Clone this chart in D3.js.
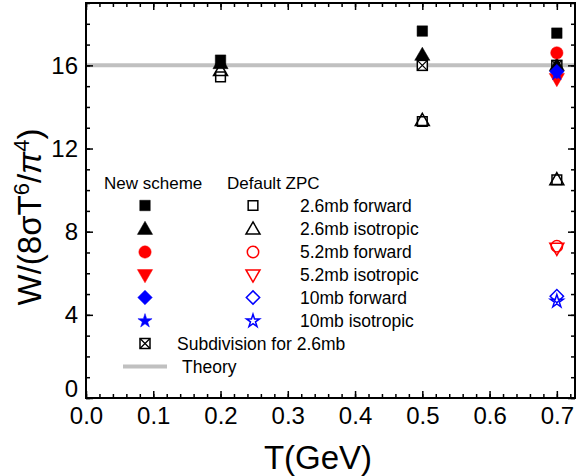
<!DOCTYPE html>
<html>
<head>
<meta charset="utf-8">
<script src="https://cdn.jsdelivr.net/npm/d3@7"></script>
<style>
  body { margin: 0; background: #fff; }
  text { font-family: "Liberation Sans", Arial, sans-serif; fill: #000; }
</style>
</head>
<body>
<div id="chart"></div>
<script>
// chart values
var temps = [0.2, 0.5, 0.7];
var xTicks = [0, 0.1, 0.2, 0.3, 0.4, 0.5, 0.6, 0.7];
var yTicks = [0, 4, 8, 12, 16];
var theory = 16;

// new scheme
var new26Fwd = [16.25, 17.65, 17.55];
var new26Iso = [16.1, 16.5, 16.0];
var new52Fwd = [null, null, 16.6];
var new52Iso = [null, null, 15.35];
var new10Fwd = [null, null, 15.7];
var new10Iso = [null, null, 15.6];
// default ZPC
var def26Fwd = [15.45, 13.3, 10.5];
var def26Iso = [15.75, 13.35, 10.5];
var def52Fwd = [null, null, 7.3];
var def52Iso = [null, null, 7.2];
var def10Fwd = [null, null, 4.9];
var def10Iso = [null, null, 4.65];
// subdivision
var sub26 = [null, 16.0, 16.0];

var labels = ["2.6mb forward", "2.6mb isotropic", "5.2mb forward",
  "5.2mb isotropic", "10mb forward", "10mb isotropic"];

var svgWidth = 578, svgHeight = 476;
var svg = d3.select("#chart").append("svg")
  .attr("width", svgWidth)
  .attr("height", svgHeight);

var x = d3.scaleLinear().domain([0, 0.727]).range([86, 575]);
var y = d3.scaleLinear().domain([0, 19]).range([398, 3]);

// theory line
svg.append("line")
  .attr("x1", x(0)).attr("x2", x(0.727))
  .attr("y1", y(theory)).attr("y2", y(theory))
  .attr("stroke", "#c0c0c0").attr("stroke-width", 4);

// axes: inward ticks on all four sides
function clean(g) { g.select(".domain").remove(); g.selectAll("line").attr("stroke-width", 1.5); }
var minorX = d3.range(0, 0.7201, 0.02);
var minorY = d3.range(0, 19.01, 1);

svg.append("g").attr("transform", `translate(0,${y(0)})`)
  .call(d3.axisBottom(x).tickValues(xTicks).tickSize(-7).tickPadding(8.5).tickFormat(d3.format(".1f")))
  .call(clean)
  .selectAll("text").attr("font-size", 24).attr("font-family", "Liberation Sans, Arial");
svg.append("g").attr("transform", `translate(0,${y(0)})`)
  .call(d3.axisBottom(x).tickValues(minorX).tickSize(-4).tickFormat(""))
  .call(clean);
svg.append("g").attr("transform", `translate(0,${y(19)})`)
  .call(d3.axisTop(x).tickValues(xTicks).tickSize(-7).tickFormat(""))
  .call(clean);
svg.append("g").attr("transform", `translate(0,${y(19)})`)
  .call(d3.axisTop(x).tickValues(minorX).tickSize(-4).tickFormat(""))
  .call(clean);

svg.append("g").attr("transform", `translate(${x(0)},0)`)
  .call(d3.axisLeft(y).tickValues(yTicks).tickSize(-7).tickPadding(8).tickFormat(d3.format("d")))
  .call(clean)
  .selectAll("text").attr("font-size", 24).attr("font-family", "Liberation Sans, Arial")
  .attr("dy", d => d === 0 ? "-0.05em" : "0.32em");
svg.append("g").attr("transform", `translate(${x(0)},0)`)
  .call(d3.axisLeft(y).tickValues(minorY).tickSize(-4).tickFormat(""))
  .call(clean);
svg.append("g").attr("transform", `translate(${x(0.727)},0)`)
  .call(d3.axisRight(y).tickValues(yTicks).tickSize(-7).tickFormat(""))
  .call(clean);
svg.append("g").attr("transform", `translate(${x(0.727)},0)`)
  .call(d3.axisRight(y).tickValues(minorY).tickSize(-4).tickFormat(""))
  .call(clean);

// frame
svg.append("rect")
  .attr("x", x(0)).attr("y", y(19))
  .attr("width", x(0.727) - x(0)).attr("height", y(0) - y(19))
  .attr("fill", "none").attr("stroke", "#000").attr("stroke-width", 2);

// marker drawing
var shapes = {
  square: { type: d3.symbolSquare, size: 110, rot: 0 },
  triUp: { type: d3.symbolTriangle, size: 100, rot: 0, dy: 1 },
  circle: { type: d3.symbolCircle, size: 120, rot: 0 },
  triDown: { type: d3.symbolTriangle, size: 100, rot: 180, dy: -1 },
  diamond: { type: d3.symbolSquare, size: 105, rot: 45 },
  star: { type: d3.symbolStar, size: 62, rot: 0 }
};

function marker(g, shape, color, filled, cx, cy) {
  var s = shapes[shape];
  var osz = filled ? s.size : s.size * 0.85;
  g.append("path")
    .attr("d", d3.symbol().type(s.type).size(osz)())
    .attr("transform", `translate(${cx},${cy + (s.dy || 0)}) rotate(${s.rot})`)
    .attr("fill", filled ? color : "none")
    .attr("stroke", color)
    .attr("stroke-width", filled ? 0.5 : 1.5);
}

function crossSquare(g, cx, cy) {
  var h = 5;
  g.append("rect").attr("x", cx - h).attr("y", cy - h).attr("width", 2 * h).attr("height", 2 * h)
    .attr("fill", "#fff").attr("stroke", "#000").attr("stroke-width", 1.5);
  g.append("path").attr("d", `M${cx - h},${cy - h}L${cx + h},${cy + h}M${cx + h},${cy - h}L${cx - h},${cy + h}`)
    .attr("stroke", "#000").attr("stroke-width", 1.3);
}

var series = [
  { vals: sub26, sub: true },
  { vals: new26Fwd, shape: "square", color: "#000", filled: true },
  { vals: new26Iso, shape: "triUp", color: "#000", filled: true },
  { vals: new52Fwd, shape: "circle", color: "#ff0000", filled: true },
  { vals: new52Iso, shape: "triDown", color: "#ff0000", filled: true },
  { vals: new10Fwd, shape: "diamond", color: "#0000ff", filled: true },
  { vals: new10Iso, shape: "star", color: "#0000ff", filled: true },
  { vals: def26Fwd, shape: "square", color: "#000", filled: false },
  { vals: def26Iso, shape: "triUp", color: "#000", filled: false },
  { vals: def52Fwd, shape: "circle", color: "#ff0000", filled: false },
  { vals: def52Iso, shape: "triDown", color: "#ff0000", filled: false },
  { vals: def10Fwd, shape: "diamond", color: "#0000ff", filled: false },
  { vals: def10Iso, shape: "star", color: "#0000ff", filled: false }
];

var points = svg.append("g");
series.forEach(function(s) {
  s.vals.forEach(function(v, i) {
    if (v == null) return;
    if (s.sub) crossSquare(points, x(temps[i]), y(v));
    else marker(points, s.shape, s.color, s.filled, x(temps[i]), y(v));
  });
});

// legend
var legend = svg.append("g");
var rowY = [205.5, 229, 252, 275, 297.5, 321];
legend.append("text").attr("x", 104).attr("y", 189).attr("font-size", 17).text("New scheme");
legend.append("text").attr("x", 227).attr("y", 189).attr("font-size", 17).text("Default ZPC");
labels.forEach(function(lab, i) {
  var sn = series[i + 1], sd = series[i + 7];
  marker(legend, sn.shape, sn.color, true, 145, rowY[i]);
  marker(legend, sd.shape, sd.color, false, 253, rowY[i]);
  legend.append("text").attr("x", 300).attr("y", rowY[i] + 6).attr("font-size", 17.5).text(lab);
});
crossSquare(legend, 145, 343.5);
legend.append("text").attr("x", 177).attr("y", 349.5).attr("font-size", 17.5).text("Subdivision for 2.6mb");
legend.append("line").attr("x1", 123).attr("x2", 167).attr("y1", 366.5).attr("y2", 366.5)
  .attr("stroke", "#c0c0c0").attr("stroke-width", 4);
legend.append("text").attr("x", 182).attr("y", 372.5).attr("font-size", 17.5).text("Theory");

// axis titles
svg.append("text")
  .attr("x", 318).attr("y", 469)
  .attr("text-anchor", "middle").attr("font-size", 33)
  .text("T(GeV)");

var yt = svg.append("text")
  .attr("transform", "translate(41,217) rotate(-90)")
  .attr("text-anchor", "middle").attr("font-size", 33);
yt.append("tspan").text("W/(8σT");
yt.append("tspan").attr("dy", -12).attr("font-size", 22).text("6");
yt.append("tspan").attr("dy", 12).text("/");
yt.append("tspan").attr("font-style", "italic").text("π");
yt.append("tspan").attr("dy", -12).attr("font-size", 22).text("4");
yt.append("tspan").attr("dy", 12).text(")");
</script>
</body>
</html>
